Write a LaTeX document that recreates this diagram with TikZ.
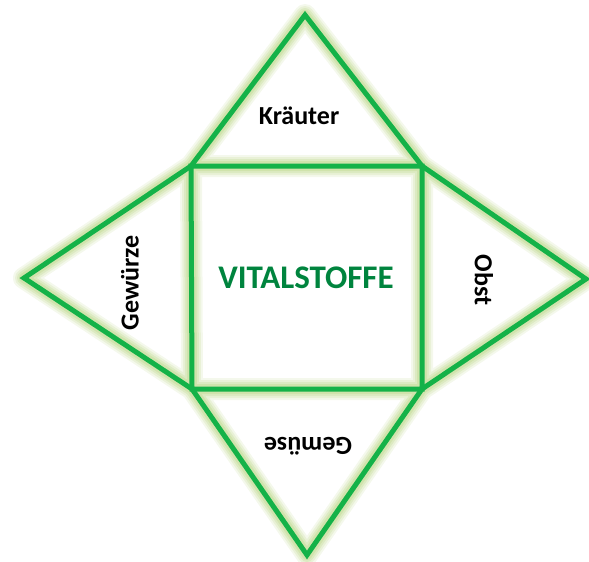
\documentclass[tikz,border=0pt]{standalone}
\usepackage{fontspec}
\setmainfont{Carlito}
\definecolor{linegreen}{RGB}{20,178,72}
\definecolor{glowgreen}{RGB}{165,200,95}
\definecolor{textgreen}{RGB}{0,132,62}
\begin{document}
\begin{tikzpicture}[x=1pt,y=-1pt,
  outline/.style={draw=linegreen,line width=5pt,line join=miter,miter limit=10},
  glowline/.style={draw=glowgreen,line join=round},
  label/.style={font=\fontsize{26}{28}\selectfont\bfseries,text=black,inner sep=0pt},
  title/.style={font=\fontsize{33}{36}\selectfont\bfseries,text=textgreen,inner sep=0pt}]
\useasboundingbox (0,0) rectangle (589,562);
\coordinate (tl) at (191,166);
\coordinate (tr) at (422,166);
\coordinate (br) at (422,389);
\coordinate (bl) at (192,389);
\coordinate (top) at (305,15);
\coordinate (bot) at (307,555);
\coordinate (lft) at (24,278);
\coordinate (rgt) at (586,279);
\foreach \w/\o in {22/0.12,18/0.14,14/0.18,10/0.22}{
  \draw[glowline,line width=\w pt,opacity=\o]
    (tl) -- (tr) -- (br) -- (bl) -- cycle
    (tl) -- (top) -- (tr)
    (tr) -- (rgt) -- (br)
    (br) -- (bot) -- (bl)
    (bl) -- (lft) -- (tl);
}
\draw[outline] (tl) -- (tr) -- (br) -- (bl) -- cycle;
\draw[outline] (tl) -- (top) -- (tr);
\draw[outline] (tr) -- (rgt) -- (br);
\draw[outline] (br) -- (bot) -- (bl);
\draw[outline] (bl) -- (lft) -- (tl);
\node[title] (vital) at (306,278) {VITALSTOFFE};
\node[label] (kraeuter) at (299,116) {Kräuter};
\node[label,rotate=90] (gewuerze) at (130,283) {Gewürze};
\node[label,rotate=-90] (obst) at (484,280) {Obst};
\node[label,rotate=180] (gemuese) at (308,446) {Gemüse};
\end{tikzpicture}
\end{document}
